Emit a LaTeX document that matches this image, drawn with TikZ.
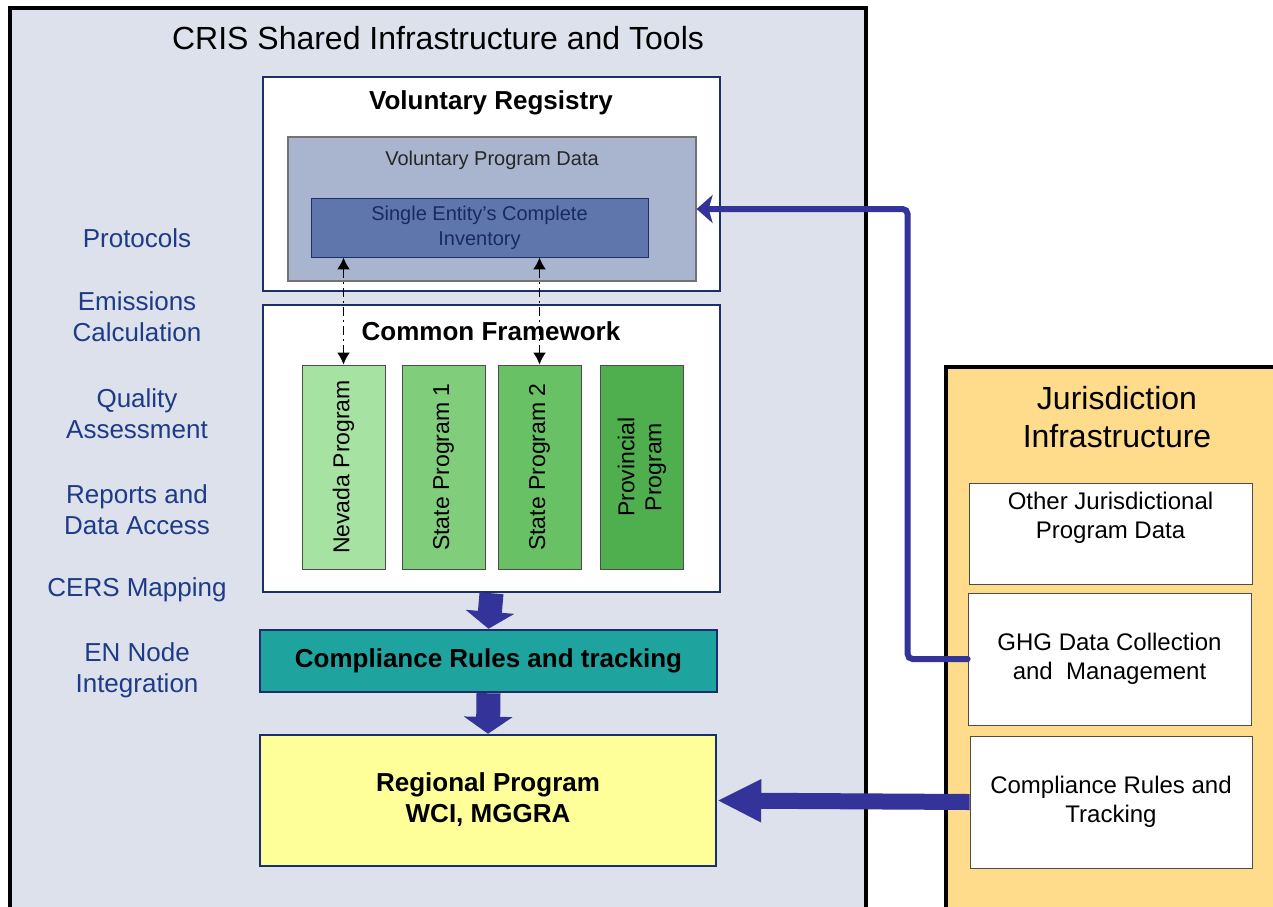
\documentclass[tikz,border=0pt]{standalone}
\usepackage{fontspec}
\setmainfont{Liberation Sans}
\usetikzlibrary{arrows.meta}

\definecolor{navy}{HTML}{1C2F6B}
\definecolor{crisbg}{HTML}{DCE1EC}
\definecolor{vpdbg}{HTML}{A9B5CF}
\definecolor{invbg}{HTML}{5E76AC}
\definecolor{invtext}{HTML}{1A2A5E}
\definecolor{compbg}{HTML}{1FA39E}
\definecolor{regbg}{HTML}{FFFF99}
\definecolor{jurbg}{HTML}{FFDB8C}
\definecolor{linkblue}{HTML}{333399}
\definecolor{sideblue}{HTML}{1F3B87}
\definecolor{greenA}{HTML}{A6E2A1}
\definecolor{greenB}{HTML}{80CE7B}
\definecolor{greenC}{HTML}{69C166}
\definecolor{greenD}{HTML}{4FAF4F}

\begin{document}
\begin{tikzpicture}[x=1pt,y=-1pt]
\tikzset{area/.style = {draw=black, line width=4pt, inner sep=0pt}}
\tikzset{box/.style = {draw=navy, line width=2.5pt, fill=white, inner sep=0pt, minimum width=457pt}}
\tikzset{prog/.style = {draw=black!70, line width=0.8pt, inner sep=0pt, minimum width=83pt, minimum height=204pt}}
\tikzset{jtext/.style = {align=center, font=\fontsize{24}{29}\selectfont}}
\tikzset{jbox/.style = {jtext, draw=black!70, line width=0.8pt, fill=white, inner sep=0pt, minimum width=283pt}}
\tikzset{side/.style = {text=sideblue, align=center, font=\fontsize{26}{31}\selectfont}}
\tikzset{head/.style = {font=\bfseries\fontsize{26}{31}\selectfont, align=center}}
\tikzset{vert/.style = {rotate=90, align=center, font=\fontsize{23}{27}\selectfont}}
\tikzset{dotlink/.style = {{Latex[length=12pt,width=13pt]}-{Latex[length=12pt,width=13pt]}, line width=1.8pt,
  dash pattern=on 9pt off 4pt on 2pt off 4pt}}
\tikzset{block/.style = {-{Triangle[length=17pt,width=48pt]}, draw=linkblue, line width=24pt, line join=miter}}

\clip (0,0) rectangle (1273,906);
\fill[white] (0,0) rectangle (1273,906);

\node[area, fill=crisbg, minimum width=856pt, minimum height=912pt] (cris) at (438,464) {};
\node[area, fill=jurbg, minimum width=344pt, minimum height=553pt] (jur) at (1118,643.5) {};
\node[font=\fontsize{32}{38}\selectfont] (crist) at (438,38) {CRIS Shared Infrastructure and Tools};
\node[font=\fontsize{32}{38}\selectfont, align=center] (jurt) at (1117,417) {Jurisdiction\\Infrastructure};

\node[side] (s1) at (137,238) {Protocols};
\node[side] (s2) at (137,317) {Emissions\\Calculation};
\node[side] (s3) at (137,414) {Quality\\Assessment};
\node[side] (s4) at (137,510) {Reports and\\Data Access};
\node[side] (s5) at (137,590) {CERS Mapping};
\node[side] (s6) at (137,670) {EN Node\\Integration};

\node[box, minimum height=214pt] (vr) at (491.5,184) {};
\node[head] (vrt) at (491,103) {Voluntary Regsistry};
\node[draw=black!55, line width=1.2pt, fill=vpdbg, minimum width=408pt, minimum height=144pt] (vpd) at (492,209) {};
\node[font=\fontsize{20}{24}\selectfont, text=black!85] (vpdt) at (492,160) {Voluntary Program Data};
\node[draw=navy, line width=0.8pt, fill=invbg, text=invtext, inner sep=0pt, minimum width=337pt, minimum height=59pt,
  align=center, font=\fontsize{20}{25}\selectfont] (inv) at (479.5,227.5) {Single Entity's Complete\\Inventory};

\node[box, minimum height=287pt] (cf) at (491.5,448.5) {};
\node[head] (cft) at (491,331) {Common Framework};
\node[prog, fill=greenA] (nev) at (343.5,467) {};
\node[prog, fill=greenB] (sp1) at (443.5,467) {};
\node[prog, fill=greenC] (sp2) at (539.5,467) {};
\node[prog, fill=greenD] (pro) at (642,467) {};
\node[vert] (nevt) at (nev) {Nevada Program};
\node[vert] (sp1t) at (sp1) {State Program 1};
\node[vert] (sp2t) at (sp2) {State Program 2};
\node[vert] (prot) at (pro) {Provincial\\Program};

\node[box, fill=compbg, minimum height=62pt] (comp) at (488.5,661) {};
\node[head] (compt) at (comp) {Compliance Rules and tracking};
\node[box, fill=regbg, minimum width=456pt, minimum height=131pt] (reg) at (488,800.5) {};
\node[head] (regt) at (488,800) {Regional Program\\WCI, MGGRA};

\node[jbox, minimum height=101pt] (oth) at (1110.5,533.5) {};
\node[jtext] (otht) at (1110.5,518) {Other Jurisdictional\\Program Data};
\node[jbox, minimum height=132pt] (ghg) at (1109.5,659) {GHG Data Collection\\and~~Management};
\node[jbox, minimum width=282pt, minimum height=132pt] (ctr) at (1111,802) {Compliance Rules and\\Tracking};

\draw[dotlink] (nev.north) -- (nev.north |- inv.south);
\draw[dotlink] (sp2.north) -- (sp2.north |- inv.south);

\draw[block] (cf.south) -- (comp.north);
\draw[block] (comp.south) -- (reg.north);
\draw[-{Triangle[length=44pt,width=40pt]}, draw=linkblue, line width=16pt] (ctr.west) -- (reg.east);
\draw[-{Stealth[length=16pt,width=28pt,inset=4pt]}, draw=linkblue, line width=6pt, rounded corners=5pt, line cap=round]
  (ghg.west) -- ++(-60,0) |- (vpd.east);
\end{tikzpicture}
\end{document}
